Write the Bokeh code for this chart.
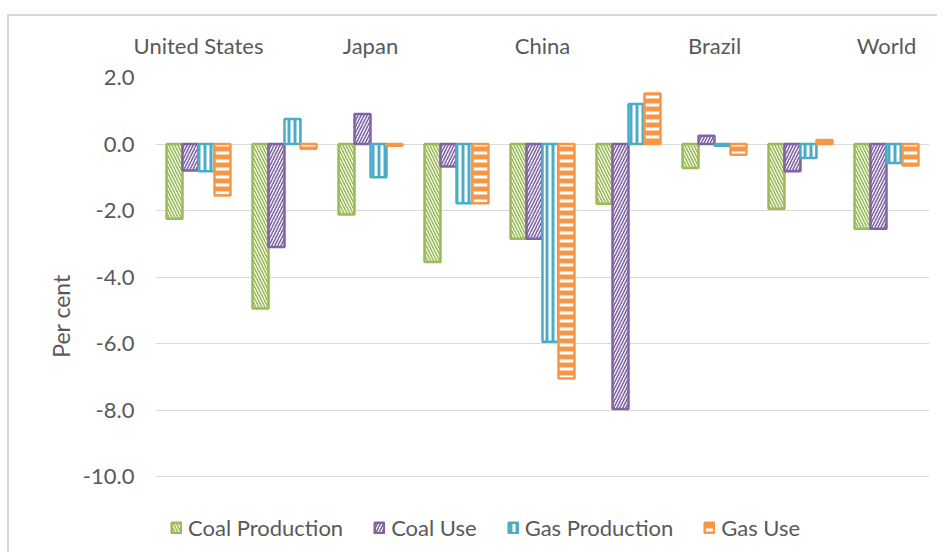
from bokeh.plotting import figure
from bokeh.models import (ColumnDataSource, Range1d, FixedTicker,
                          Legend, LegendItem, NumeralTickFormatter)
from bokeh.transform import dodge
from bokeh.embed import file_html
from bokeh.resources import INLINE

# ---- data ----
categories = ["United States", "cat2", "Japan", "cat4", "China", "cat6",
              "Brazil", "cat8", "World"]
category_labels = ["United States", "", "Japan", "", "China", "",
                   "Brazil", "", "World"]
series_names = ["Coal Production", "Coal Use", "Gas Production", "Gas Use"]
coal_production = [-2.25, -4.95, -2.12, -3.55, -2.85, -1.80, -0.72, -1.95, -2.55]
coal_use = [-0.80, -3.10, 0.90, -0.68, -2.85, -7.97, 0.25, -0.82, -2.55]
gas_production = [-0.82, 0.75, -1.00, -1.78, -5.95, 1.20, -0.05, -0.42, -0.57]
gas_use = [-1.55, -0.14, -0.05, -1.78, -7.05, 1.52, -0.32, 0.12, -0.65]
y_ticks = [-10, -8, -6, -4, -2, 0, 2]

FONT = "Lato"
GREY = "#595959"

pos = list(range(len(categories)))
source = ColumnDataSource(dict(pos=pos, cat=categories, cp=coal_production,
                               cu=coal_use, gp=gas_production, gu=gas_use))

# layout (pixels): plot frame spans from the 2.0 gridline down to the canvas
# bottom so that the legend can sit inside it below the -10 gridline
H = 538
TOP = 61          # px above the 2.0 line
AXIS_PX = 399     # px from 2.0 to -10.0
extra = (H - TOP - AXIS_PX) * 12.0 / AXIS_PX

p = figure(x_range=Range1d(-0.5, len(categories) - 0.5),
           y_range=Range1d(min(y_ticks) - extra, max(y_ticks)),
           width=930, height=H, output_backend="svg", toolbar_location=None,
           x_axis_location="above",
           min_border_left=146, min_border_right=10, min_border_top=TOP,
           min_border_bottom=0)
p.styles = {"margin-left": "7px", "margin-top": "14px",
            "border-top": "2px solid #D9D9D9",
            "border-left": "2px solid #D9D9D9"}
p.outline_line_color = None
p.background_fill_color = "white"
p.border_fill_color = "white"

bw = 0.186
specs = [
    ("cp", -1.5 * bw, "#9BBB59", "\\", 6, 1.6),
    ("cu", -0.5 * bw, "#8064A2", "/", 6, 1.6),
    ("gp", 0.5 * bw, "#4BACC6", "|", 6, 3.0),
    ("gu", 1.5 * bw, "#F79646", "-", 8, 5.0),
]
legend_items = []
for (col, off, color, hatch, hscale, hweight), name in zip(specs, series_names):
    r = p.vbar(x=dodge("pos", off), top=col, bottom=0,
               width=bw, source=source,
               fill_color="white", line_color=color, line_width=2.5,
               hatch_pattern=hatch, hatch_color=color, hatch_scale=hscale,
               hatch_weight=hweight)
    legend_items.append(LegendItem(label=name, renderers=[r]))

# grid
p.xgrid.visible = False
p.ygrid.ticker = FixedTicker(ticks=y_ticks)
p.ygrid.grid_line_color = "#D9D9D9"
p.ygrid.grid_line_width = 1

# y axis
ya = p.yaxis[0]
ya.ticker = FixedTicker(ticks=y_ticks)
ya.formatter = NumeralTickFormatter(format="0.0")
ya.axis_line_color = None
ya.major_tick_line_color = None
ya.minor_tick_line_color = None
ya.major_tick_out = 0
ya.major_label_standoff = 21
ya.major_label_text_font = FONT
ya.major_label_text_font_size = "22px"
ya.major_label_text_color = GREY
ya.axis_label = "Per cent"
ya.axis_label_text_font = FONT
ya.axis_label_text_font_size = "23px"
ya.axis_label_text_font_style = "normal"
ya.axis_label_text_color = GREY
ya.axis_label_standoff = 5

# x axis (top) - category names, every other one shown
label_pos = [i for i, l in enumerate(category_labels) if l]
xa = p.xaxis[0]
xa.ticker = FixedTicker(ticks=label_pos)
xa.major_label_overrides = {i: category_labels[i] for i in label_pos}
xa.axis_line_color = None
xa.major_tick_line_color = None
xa.minor_tick_line_color = None
xa.major_tick_out = 0
xa.major_label_standoff = 19
xa.major_label_text_font = FONT
xa.major_label_text_font_size = "22px"
xa.major_label_text_color = GREY

legend = Legend(items=legend_items,
                orientation="horizontal", location=(10, 8),
                glyph_width=12, glyph_height=13, label_standoff=6, spacing=30,
                padding=5, margin=0,
                label_text_font=FONT, label_text_font_size="22px",
                label_text_color=GREY,
                border_line_alpha=0, background_fill_alpha=0)
p.add_layout(legend, "center")

open("out.html", "w").write(file_html(p, INLINE))
